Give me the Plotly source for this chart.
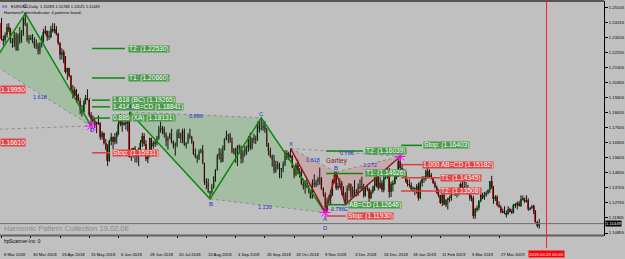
import plotly.graph_objects as go

# ---------------- data ----------------
date_ticks = [0, 16, 32, 48, 64, 80, 96, 112, 128, 144, 160, 176, 192, 208, 224, 240, 256, 272]
date_labels = ['8 Mar 2018', '30 Mar 2018', '23 Apr 2018', '15 May 2018', '6 Jun 2018', '28 Jun 2018',
               '20 Jul 2018', '13 Aug 2018', '4 Sep 2018', '26 Sep 2018', '18 Oct 2018', '9 Nov 2018',
               '3 Dec 2018', '26 Dec 2018', '18 Jan 2019', '11 Feb 2019', '5 Mar 2019', '27 Mar 2019']
cursor_bar = 298
cursor_label = '2019.04.29 00:00'

price_tick_labels = ['1.10855', '1.11805', '1.12755', '1.13705', '1.14655', '1.15605', '1.16555', '1.17505',
                     '1.18455', '1.19405', '1.20355', '1.21305', '1.22255', '1.23205', '1.24155', '1.25105']

opens = [
    1.2412, 1.2311, 1.2306, 1.2336, 1.2389, 1.2370, 1.2303, 1.2288, 1.2336, 1.2241, 1.2340, 1.2299, 1.2353, 1.2445, 1.2406, 1.2308, 1.2319,
    1.2322, 1.2301, 1.2271, 1.2277, 1.2239, 1.2282, 1.2318, 1.2357, 1.2367, 1.2327, 1.2328, 1.2380, 1.2370, 1.2374, 1.2347, 1.2288, 1.2212, 1.2233, 1.2165, 1.2103, 1.2130,
    1.2080, 1.1991, 1.1950, 1.1989, 1.1960, 1.1922, 1.1865, 1.1851, 1.1917, 1.1942, 1.1926, 1.1834, 1.1810, 1.1796, 1.1769, 1.1789, 1.1780, 1.1696, 1.1720, 1.1654, 1.1625, 1.1540, 1.1665,
    1.1693, 1.1659, 1.1695, 1.1718, 1.1777, 1.1797, 1.1768, 1.1782, 1.1776, 1.1794, 1.1569, 1.1607, 1.1625, 1.1578, 1.1570, 1.1600, 1.1655, 1.1701, 1.1649, 1.1553, 1.1570,
    1.1684, 1.1636, 1.1655, 1.1656, 1.1690, 1.1745, 1.1750, 1.1741, 1.1711, 1.1669, 1.1685, 1.1712, 1.1660, 1.1641, 1.1642, 1.1718, 1.1690, 1.1685, 1.1730, 1.1641, 1.1657, 1.1706,
    1.1691, 1.1659, 1.1584, 1.1566, 1.1552, 1.1600, 1.1610, 1.1525, 1.1410, 1.1405, 1.1345, 1.1345, 1.1375, 1.1440, 1.1485, 1.1570, 1.1595, 1.1536, 1.1625, 1.1680, 1.1700, 1.1705, 1.1670,
    1.1601, 1.1620, 1.1582, 1.1630, 1.1625, 1.1552, 1.1595, 1.1601, 1.1625, 1.1690, 1.1625, 1.1685, 1.1675, 1.1670, 1.1775, 1.1745, 1.1750, 1.1765, 1.1740, 1.1640,
    1.1605, 1.1575, 1.1547, 1.1480, 1.1515, 1.1525, 1.1490, 1.1490, 1.1525, 1.1595, 1.1560, 1.1580, 1.1575, 1.1500, 1.1455, 1.1515, 1.1465, 1.1470, 1.1395, 1.1375, 1.1400, 1.1370, 1.1345,
    1.1310, 1.1405, 1.1390, 1.1410, 1.1430, 1.1425, 1.1365, 1.1335, 1.1225, 1.1290, 1.1310, 1.1330, 1.1415, 1.1455, 1.1370, 1.1385, 1.1405, 1.1340, 1.1335, 1.1290, 1.1370, 1.1395,
    1.1315, 1.1355, 1.1345, 1.1340, 1.1375, 1.1380, 1.1355, 1.1320, 1.1370, 1.1365, 1.1305, 1.1345, 1.1360, 1.1380, 1.1450, 1.1370, 1.1405, 1.1355, 1.1430, 1.1440,
    1.1465, 1.1345, 1.1395, 1.1395, 1.1470, 1.1440, 1.1540, 1.1500, 1.1468, 1.1470, 1.1410, 1.1395, 1.1390, 1.1365, 1.1365, 1.1365, 1.1385, 1.1305, 1.1405, 1.1430, 1.1430, 1.1480,
    1.1445, 1.1455, 1.1435, 1.1405, 1.1375, 1.1340, 1.1325, 1.1275, 1.1325, 1.1265, 1.1295, 1.1295, 1.1310, 1.1340, 1.1345, 1.1335, 1.1335, 1.1355, 1.1395, 1.1370,
    1.1370, 1.1365, 1.1340, 1.1305, 1.1305, 1.1195, 1.1235, 1.1245, 1.1285, 1.1325, 1.1305, 1.1325, 1.1340, 1.1355, 1.1415, 1.1375, 1.1300, 1.1315, 1.1265, 1.1250, 1.1220,
    1.1215, 1.1215, 1.1205, 1.1235, 1.1220, 1.1215, 1.1260, 1.1265, 1.1275, 1.1255, 1.1300, 1.1305, 1.1285, 1.1295, 1.1235, 1.1245, 1.1255, 1.1225, 1.1155, 1.11283,
]
highs = [
    1.2447, 1.2335, 1.2355, 1.2410, 1.2413, 1.2384, 1.2320, 1.2360, 1.2354, 1.2350, 1.2389, 1.2370, 1.2450, 1.2476, 1.2416, 1.2339, 1.2339,
    1.2345, 1.2324, 1.2311, 1.2290, 1.2294, 1.2335, 1.2379, 1.2396, 1.2368, 1.2365, 1.2397, 1.2414, 1.2413, 1.2396, 1.2353, 1.2294, 1.2255, 1.2245, 1.2206, 1.2131, 1.2132,
    1.2085, 1.2022, 1.2010, 1.1997, 1.1967, 1.1939, 1.1896, 1.1925, 1.1960, 1.1995, 1.1938, 1.1851, 1.1830, 1.1813, 1.1790, 1.1830, 1.1787, 1.1730, 1.1721, 1.1680, 1.1647, 1.1676, 1.1718,
    1.1697, 1.1718, 1.1728, 1.1796, 1.1840, 1.1802, 1.1809, 1.1795, 1.1800, 1.1852, 1.1622, 1.1626, 1.1636, 1.1605, 1.1627, 1.1675, 1.1720, 1.1717, 1.1673, 1.1595, 1.1690,
    1.1688, 1.1670, 1.1672, 1.1700, 1.1764, 1.1791, 1.1763, 1.1758, 1.1722, 1.1697, 1.1720, 1.1745, 1.1672, 1.1659, 1.1740, 1.1745, 1.1720, 1.1745, 1.1747, 1.1660, 1.1718, 1.1746,
    1.1700, 1.1667, 1.1620, 1.1580, 1.1614, 1.1620, 1.1643, 1.1530, 1.1432, 1.1430, 1.1351, 1.1396, 1.1445, 1.1490, 1.1585, 1.1623, 1.1620, 1.1640, 1.1686, 1.1733, 1.1713, 1.1720, 1.1690,
    1.1623, 1.1625, 1.1642, 1.1645, 1.1640, 1.1612, 1.1637, 1.1639, 1.1699, 1.1721, 1.1690, 1.1714, 1.1702, 1.1790, 1.1789, 1.1815, 1.1791, 1.1795, 1.1750, 1.1655,
    1.1625, 1.1582, 1.1580, 1.1543, 1.1540, 1.1530, 1.1497, 1.1539, 1.1610, 1.1609, 1.1600, 1.1621, 1.1580, 1.1506, 1.1530, 1.1550, 1.1496, 1.1494, 1.1430, 1.1420, 1.1433, 1.1390, 1.1357,
    1.1425, 1.1456, 1.1422, 1.1441, 1.1500, 1.1440, 1.1375, 1.1342, 1.1309, 1.1325, 1.1360, 1.1425, 1.1471, 1.1472, 1.1403, 1.1432, 1.1415, 1.1381, 1.1344, 1.1387, 1.1402, 1.1398,
    1.1380, 1.1420, 1.1363, 1.1399, 1.1424, 1.1442, 1.1397, 1.1383, 1.1394, 1.1373, 1.1360, 1.1385, 1.1440, 1.1486, 1.1470, 1.1440, 1.1420, 1.1448, 1.1473, 1.1495,
    1.1497, 1.1410, 1.1419, 1.1485, 1.1484, 1.1553, 1.1570, 1.1524, 1.1492, 1.1475, 1.1425, 1.1425, 1.1406, 1.1381, 1.1375, 1.1395, 1.1405, 1.1417, 1.1445, 1.1445, 1.1487, 1.1514,
    1.1488, 1.1466, 1.1440, 1.1415, 1.1387, 1.1363, 1.1325, 1.1340, 1.1342, 1.1300, 1.1310, 1.1321, 1.1350, 1.1372, 1.1370, 1.1350, 1.1366, 1.1405, 1.1420, 1.1419,
    1.1408, 1.1390, 1.1345, 1.1325, 1.1320, 1.1245, 1.1260, 1.1295, 1.1338, 1.1340, 1.1345, 1.1350, 1.1362, 1.1415, 1.1448, 1.1383, 1.1325, 1.1325, 1.1285, 1.1262, 1.1240,
    1.1255, 1.1228, 1.1255, 1.1245, 1.1235, 1.1270, 1.1275, 1.1285, 1.1289, 1.1324, 1.1323, 1.1310, 1.1325, 1.1305, 1.1250, 1.1263, 1.1265, 1.1230, 1.1162, 1.11748,
]
lows = [
    1.2305, 1.2273, 1.2290, 1.2321, 1.2357, 1.2287, 1.2258, 1.2262, 1.2239, 1.2238, 1.2283, 1.2290, 1.2334, 1.2396, 1.2294, 1.2283, 1.2307,
    1.2286, 1.2255, 1.2250, 1.2215, 1.2217, 1.2260, 1.2290, 1.2340, 1.2302, 1.2307, 1.2318, 1.2355, 1.2352, 1.2337, 1.2276, 1.2182, 1.2183, 1.2160, 1.2094, 1.2055, 1.2071,
    1.1984, 1.1938, 1.1938, 1.1910, 1.1917, 1.1838, 1.1823, 1.1845, 1.1900, 1.1925, 1.1820, 1.1763, 1.1780, 1.1750, 1.1717, 1.1770, 1.1676, 1.1677, 1.1646, 1.1610, 1.1510, 1.1537, 1.1641,
    1.1617, 1.1646, 1.1650, 1.1705, 1.1760, 1.1727, 1.1764, 1.1740, 1.1728, 1.1562, 1.1542, 1.1563, 1.1532, 1.1530, 1.1508, 1.1589, 1.1630, 1.1636, 1.1541, 1.1528, 1.1565,
    1.1591, 1.1620, 1.1630, 1.1640, 1.1676, 1.1720, 1.1711, 1.1690, 1.1635, 1.1613, 1.1680, 1.1653, 1.1620, 1.1575, 1.1629, 1.1685, 1.1655, 1.1653, 1.1637, 1.1620, 1.1650, 1.1680,
    1.1650, 1.1578, 1.1559, 1.1529, 1.1547, 1.1589, 1.1523, 1.1390, 1.1365, 1.1340, 1.1301, 1.1332, 1.1365, 1.1410, 1.1480, 1.1551, 1.1530, 1.1535, 1.1608, 1.1672, 1.1654, 1.1656, 1.1590,
    1.1585, 1.1530, 1.1510, 1.1590, 1.1525, 1.1530, 1.1570, 1.1580, 1.1600, 1.1610, 1.1614, 1.1653, 1.1649, 1.1669, 1.1722, 1.1735, 1.1733, 1.1720, 1.1630, 1.1576,
    1.1560, 1.1505, 1.1463, 1.1466, 1.1488, 1.1432, 1.1432, 1.1470, 1.1510, 1.1548, 1.1547, 1.1559, 1.1496, 1.1432, 1.1445, 1.1458, 1.1435, 1.1390, 1.1360, 1.1335, 1.1369, 1.1337, 1.1302,
    1.1303, 1.1375, 1.1375, 1.1385, 1.1391, 1.1358, 1.1314, 1.1215, 1.1221, 1.1259, 1.1266, 1.1320, 1.1400, 1.1357, 1.1358, 1.1371, 1.1325, 1.1320, 1.1267, 1.1270, 1.1352, 1.1305,
    1.1315, 1.1317, 1.1316, 1.1320, 1.1360, 1.1351, 1.1309, 1.1316, 1.1350, 1.1270, 1.1301, 1.1335, 1.1352, 1.1375, 1.1356, 1.1366, 1.1344, 1.1343, 1.1425, 1.1430,
    1.1309, 1.1313, 1.1348, 1.1393, 1.1425, 1.1440, 1.1482, 1.1458, 1.1440, 1.1405, 1.1380, 1.1374, 1.1352, 1.1347, 1.1325, 1.1335, 1.1290, 1.1300, 1.1380, 1.1404, 1.1417, 1.1436,
    1.1433, 1.1425, 1.1395, 1.1368, 1.1335, 1.1310, 1.1270, 1.1255, 1.1265, 1.1249, 1.1234, 1.1280, 1.1290, 1.1325, 1.1320, 1.1310, 1.1322, 1.1335, 1.1365, 1.1365,
    1.1355, 1.1330, 1.1290, 1.1285, 1.1177, 1.1175, 1.1220, 1.1230, 1.1280, 1.1300, 1.1295, 1.1315, 1.1330, 1.1340, 1.1365, 1.1270, 1.1288, 1.1255, 1.1245, 1.1210, 1.1211,
    1.1205, 1.1184, 1.1200, 1.1215, 1.1205, 1.1210, 1.1245, 1.1235, 1.1253, 1.1250, 1.1292, 1.1275, 1.1280, 1.1225, 1.1230, 1.1237, 1.1205, 1.1150, 1.1120, 1.11125,
]
closes = [
    1.2311, 1.2306, 1.2336, 1.2389, 1.2370, 1.2303, 1.2288, 1.2336, 1.2241, 1.2340, 1.2299, 1.2353, 1.2445, 1.2406, 1.2308, 1.2319, 1.2322,
    1.2301, 1.2271, 1.2277, 1.2239, 1.2282, 1.2318, 1.2357, 1.2367, 1.2327, 1.2328, 1.2380, 1.2370, 1.2374, 1.2347, 1.2288, 1.2212, 1.2233, 1.2165, 1.2103, 1.2130, 1.2080,
    1.1991, 1.1950, 1.1989, 1.1960, 1.1922, 1.1865, 1.1851, 1.1917, 1.1942, 1.1926, 1.1834, 1.1810, 1.1796, 1.1769, 1.1789, 1.1780, 1.1696, 1.1720, 1.1654, 1.1625, 1.1540, 1.1665, 1.1693,
    1.1659, 1.1695, 1.1718, 1.1777, 1.1797, 1.1768, 1.1782, 1.1776, 1.1794, 1.1569, 1.1607, 1.1625, 1.1578, 1.1570, 1.1600, 1.1655, 1.1701, 1.1649, 1.1553, 1.1570, 1.1684,
    1.1636, 1.1655, 1.1656, 1.1690, 1.1745, 1.1750, 1.1741, 1.1711, 1.1669, 1.1685, 1.1712, 1.1660, 1.1641, 1.1642, 1.1718, 1.1690, 1.1685, 1.1730, 1.1641, 1.1657, 1.1706, 1.1691,
    1.1659, 1.1584, 1.1566, 1.1552, 1.1600, 1.1610, 1.1525, 1.1410, 1.1405, 1.1345, 1.1345, 1.1375, 1.1440, 1.1485, 1.1570, 1.1595, 1.1536, 1.1625, 1.1680, 1.1700, 1.1705, 1.1670, 1.1601,
    1.1620, 1.1582, 1.1630, 1.1625, 1.1552, 1.1595, 1.1601, 1.1625, 1.1690, 1.1625, 1.1685, 1.1675, 1.1670, 1.1775, 1.1745, 1.1750, 1.1765, 1.1740, 1.1640, 1.1605,
    1.1575, 1.1547, 1.1480, 1.1515, 1.1525, 1.1490, 1.1490, 1.1525, 1.1595, 1.1560, 1.1580, 1.1575, 1.1500, 1.1455, 1.1515, 1.1465, 1.1470, 1.1395, 1.1375, 1.1400, 1.1370, 1.1345, 1.1310,
    1.1405, 1.1390, 1.1410, 1.1430, 1.1425, 1.1365, 1.1335, 1.1225, 1.1290, 1.1310, 1.1330, 1.1415, 1.1455, 1.1370, 1.1385, 1.1405, 1.1340, 1.1335, 1.1290, 1.1370, 1.1395, 1.1315,
    1.1355, 1.1345, 1.1340, 1.1375, 1.1380, 1.1355, 1.1320, 1.1370, 1.1365, 1.1305, 1.1345, 1.1360, 1.1380, 1.1450, 1.1370, 1.1405, 1.1355, 1.1430, 1.1440, 1.1465,
    1.1345, 1.1395, 1.1395, 1.1470, 1.1440, 1.1540, 1.1500, 1.1468, 1.1470, 1.1410, 1.1395, 1.1390, 1.1365, 1.1365, 1.1365, 1.1385, 1.1305, 1.1405, 1.1430, 1.1430, 1.1480, 1.1445,
    1.1455, 1.1435, 1.1405, 1.1375, 1.1340, 1.1325, 1.1275, 1.1325, 1.1265, 1.1295, 1.1295, 1.1310, 1.1340, 1.1345, 1.1335, 1.1335, 1.1355, 1.1395, 1.1370, 1.1370,
    1.1365, 1.1340, 1.1305, 1.1305, 1.1195, 1.1235, 1.1245, 1.1285, 1.1325, 1.1305, 1.1325, 1.1340, 1.1355, 1.1415, 1.1375, 1.1300, 1.1315, 1.1265, 1.1250, 1.1220, 1.1215,
    1.1215, 1.1205, 1.1235, 1.1220, 1.1215, 1.1260, 1.1265, 1.1275, 1.1255, 1.1300, 1.1305, 1.1285, 1.1295, 1.1235, 1.1245, 1.1255, 1.1225, 1.1155, 1.1130, 1.11449,
]

# Harmonic patterns (bar index, price)
p1_bars = [-5, 13, 49]            # B, C, D (B lies left of the visible window)
p1_prices = [1.2155, 1.2476, 1.1763]
p1_x_bar, p1_x_price = -60, 1.1718
p2_bars = [70, 114, 142, 177]     # A, B, C, D
p2_prices = [1.1852, 1.1301, 1.1815, 1.1215]
p3_bars = [158, 177, 183, 188, 218]   # Gartley X, A, B, C, D
p3_prices = [1.1621, 1.1215, 1.1472, 1.1267, 1.1570]

p1_target_names = ['T2:', 'T1:', '1.618 (BC)', '1.414 AB=CD', '0.886 (XA)', 'Stop:']
p1_target_values = [1.22530, 1.20660, 1.19265, 1.18841, 1.18131, 1.15931]
p2_target_names = ['T2:', 'T1:', 'AB=CD', 'Stop:']
p2_target_values = [1.16039, 1.14626, 1.12646, 1.11930]
p3_target_names = ['Stop:', '1.000 AB=CD', 'T1:', 'T2:']
p3_target_values = [1.16403, 1.15182, 1.14345, 1.13508]

left_price_labels = [1.19950, 1.16610]

# ---------------- style ----------------
BG = '#c0c0c0'
FONT = 'Liberation Sans'
BLUE = '#1e30d0'
GREEN_LINE = '#0a8a0a'
GART_LINE = '#8b1a1a'
GREEN_BOX = '#4a9a4a'
RED_BOX = '#e04646'
GREEN_FILL = 'rgba(143,188,143,0.6)'
PINK_FILL = 'rgba(205,150,150,0.55)'
DOT = '#8c8c8c'

fig = go.Figure()


def fill_poly(xs, ys, color):
    fig.add_trace(go.Scatter(x=xs + [xs[0]], y=ys + [ys[0]], fill='toself', fillcolor=color,
                             mode='none', hoverinfo='skip', showlegend=False))


def seg(xs, ys, color, width=1.5, dash='solid'):
    fig.add_trace(go.Scatter(x=xs, y=ys, mode='lines', line=dict(color=color, width=width, dash=dash),
                             hoverinfo='skip', showlegend=False))


# shaded pattern areas
fill_poly(p1_bars[0:3], p1_prices[0:3], GREEN_FILL)
fill_poly(p2_bars[0:3], p2_prices[0:3], GREEN_FILL)
fill_poly(p2_bars[1:4], p2_prices[1:4], GREEN_FILL)
fill_poly(p3_bars[0:3], p3_prices[0:3], PINK_FILL)
fill_poly(p3_bars[2:5], p3_prices[2:5], PINK_FILL)

# dotted ratio lines
seg([p1_bars[0], p1_bars[2]], [p1_prices[0], p1_prices[2]], DOT, 1, 'dot')
seg([p1_x_bar, p1_bars[2]], [p1_x_price, p1_prices[2]], DOT, 1, 'dot')
seg([p2_bars[0], p2_bars[2]], [p2_prices[0], p2_prices[2]], DOT, 1, 'dot')
seg([p2_bars[1], p2_bars[3]], [p2_prices[1], p2_prices[3]], DOT, 1, 'dot')
seg([p3_bars[0], p3_bars[2]], [p3_prices[0], p3_prices[2]], DOT, 1, 'dot')
seg([p3_bars[0], p3_bars[4]], [p3_prices[0], p3_prices[4]], DOT, 1, 'dot')
seg([p3_bars[2], p3_bars[4]], [p3_prices[2], p3_prices[4]], DOT, 1, 'dot')
seg([p3_bars[1], p3_bars[3]], [p3_prices[1], p3_prices[3]], DOT, 1, 'dot')

# candles
n = len(closes)
bars = list(range(n))
wx, wy = [], []
for i in bars:
    wx += [i, i, None]
    wy += [lows[i], highs[i], None]
fig.add_trace(go.Scatter(x=wx, y=wy, mode='lines', line=dict(color='#141414', width=1),
                         hoverinfo='skip', showlegend=False))
body_base = [min(o, c) for o, c in zip(opens, closes)]
body_h = [max(abs(c - o), 0.00025) for o, c in zip(opens, closes)]
body_col = ['#1f8f1f' if c >= o else '#d42020' for o, c in zip(opens, closes)]
fig.add_trace(go.Bar(x=bars, y=body_h, base=body_base, width=0.72, marker=dict(color=body_col, line=dict(width=0)),
                     hoverinfo='skip', showlegend=False))

# pattern legs
seg(p1_bars, p1_prices, GREEN_LINE, 1.5)
seg(p2_bars, p2_prices, GREEN_LINE, 1.5)
seg(p3_bars, p3_prices, GART_LINE, 1.5)

# completion markers
fig.add_trace(go.Scatter(x=[p1_bars[2], p2_bars[3], p3_bars[4]], y=[p1_prices[2], p2_prices[3], p3_prices[4]],
                         mode='markers', marker=dict(symbol='asterisk-open', size=9, color='#ff00ff',
                                                     line=dict(color='#ff00ff', width=1)),
                         hoverinfo='skip', showlegend=False))

annotations = []


def box(x, y, text, bg, size=6.6, xref='x', yref='y', xanchor='left', **kw):
    annotations.append(dict(x=x, y=y, xref=xref, yref=yref, text=text, showarrow=False, xanchor=xanchor,
                            yanchor=kw.pop('yanchor', 'middle'), bgcolor=bg, borderpad=kw.pop('borderpad', 0),
                            height=kw.pop('height', 6),
                            font=dict(family=FONT, size=size, color='white'), **kw))


def txt(x, y, text, color=BLUE, size=6, **kw):
    annotations.append(dict(x=x, y=y, xref=kw.pop('xref', 'x'), yref=kw.pop('yref', 'y'), text=text,
                            showarrow=False, font=dict(family=FONT, size=size, color=color), **kw))


# target lines + labels
def targets(names, values, colors, starts, ends, label_x):
    for nm, v, col, x0, x1, lx in zip(names, values, colors, starts, ends, label_x):
        seg([x0, x1], [v, v], col, 1.5)
        box(lx, v, f'{nm} ({v:.5f})', GREEN_BOX if col == GREEN_LINE else RED_BOX)


RL = '#e03c3c'
targets(p1_target_names, p1_target_values, [GREEN_LINE] * 5 + [RL],
        [49.5] * 6, [67.5, 67.5, 59.3, 59.3, 59.3, 59.3], [69.2, 69.2, 60.4, 60.4, 60.4, 60.4])
targets(p2_target_names, p2_target_values, [GREEN_LINE, GREEN_LINE, GREEN_LINE, RL],
        [177.5] * 4, [197.6, 197.6, 188.9, 188.4], [198.7, 198.7, 189.4, 188.9])
targets(p3_target_names, p3_target_values, [GREEN_LINE, RL, RL, RL],
        [218.5] * 4, [229.9, 229.9, 239.7, 239.7], [230.5, 229.9, 239.7, 239.7])

# pattern point letters
txt(p1_bars[1], p1_prices[1], 'C', yshift=7)
txt(p1_bars[2] + 1, p1_prices[2], 'D', yshift=-4)
txt(p2_bars[0], p2_prices[0], 'A', yshift=5)
txt(p2_bars[1] + 0.5, p2_prices[1], 'B', yshift=-5)
txt(p2_bars[2], p2_prices[2], 'C', yshift=4)
txt(p2_bars[3], p2_prices[3], 'D', yshift=-15)
txt(p3_bars[0], p3_prices[0], 'X', yshift=4)
txt(p3_bars[1], p3_prices[1], 'A', yshift=-6)
txt(p3_bars[2], p3_prices[2], 'B', yshift=4)
txt(p3_bars[3] + 0.5, p3_prices[3], 'C', yshift=-5)

# ratio labels
txt(21.0, 1.1947, '1.618', size=5.5)
txt(106.3, 1.1826, '0.886', size=5.5)
txt(144.0, 1.1250, '1.130', size=5.5)
txt(170.3, 1.1548, '0.618', size=5.5)
txt(188.9, 1.1592, '0.786', size=5.5)
txt(201.5, 1.1516, '1.272', size=5.5)
txt(184.0, 1.1237, '0.786', size=5.5)
txt(183.4, 1.1541, 'Gartley', color=GART_LINE, size=6.5)

# left-edge price labels
for v in left_price_labels:
    box(0, v, f'{v:.5f}', RED_BOX, xref='paper', height=7)

# current price
last = closes[-1]
box(1, last, f'{last:.5f}', '#000000', size=4.2, xref='paper', xshift=1, height=5)
box(cursor_bar, 0, cursor_label, '#ff0000', size=4.4, yref='paper', xanchor='center', yanchor='top', yshift=-1.5)

# date labels (MT4 style: text starts at the tick mark)
for t, lab in zip(date_ticks, date_labels):
    txt(t, 0, lab, color='#000000', size=4.2, yref='paper', xanchor='left', yanchor='top', xshift=0, yshift=-1.5)

# header & footer texts
txt(0, 1, f'EURUSD,Daily  {opens[-1]:.5f} {highs[-1]:.5f} {lows[-1]:.5f} {closes[-1]:.5f}', color='#000000',
    size=4, xref='paper', yref='paper', xanchor='left', yanchor='top', xshift=9, yshift=-1)
txt(0, 1, 'HarmonicPatternIndicator: 4 patterns found.', color='#000000', size=4, xref='paper', yref='paper',
    xanchor='left', yanchor='top', xshift=2, yshift=-7)
txt(0, 1, 'EE', color='#2040c0', size=4, xref='paper', yref='paper', xanchor='left', yanchor='top', xshift=0,
    yshift=-1)
txt(0, 0.0526, 'Harmonic Pattern Collection 19.02.06', color='#8a8a8a', size=7.5, xref='paper', yref='paper',
    xanchor='left', yanchor='bottom', xshift=2, yshift=0)
txt(0, 0.0486, 'hpScanner-Inv: 0', color='#000000', size=4.8, xref='paper', yref='paper', xanchor='left',
    yanchor='top', xshift=2, yshift=-1)

shapes = [
    dict(type='line', xref='paper', yref='paper', x0=0, x1=1, y0=1, y1=1, line=dict(color='#555555', width=2)),
    dict(type='line', xref='paper', yref='paper', x0=0, x1=1, y0=0.0506, y1=0.0506, line=dict(color='#606060', width=2)),
    dict(type='line', xref='paper', yref='y', x0=0, x1=1, y0=last, y1=last, line=dict(color='#6e6e6e', width=1)),
    dict(type='line', xref='x', yref='paper', x0=cursor_bar, x1=cursor_bar, y0=0, y1=1, line=dict(color='#ff2020', width=1)),
]

tick_font = dict(family=FONT, size=4.2, color='#000000')
fig.update_layout(
    width=625, height=259, margin=dict(l=0, r=21, t=1, b=11),
    paper_bgcolor=BG, plot_bgcolor=BG, showlegend=False, bargap=0,
    xaxis=dict(range=[-0.82, 329.4], anchor='y2', tickvals=date_ticks, showticklabels=False,
               ticks='outside', ticklen=2, tickcolor='#000000',
               showgrid=False, zeroline=False, showline=True, linecolor='#000000', linewidth=1),
    yaxis=dict(domain=[0.0526, 1], range=[1.10728, 1.25541], side='right', anchor='x',
               tickvals=[float(s) for s in price_tick_labels], ticktext=price_tick_labels,
               ticks='outside', ticklen=3, tickcolor='#000000', tickfont=tick_font,
               showgrid=False, zeroline=False, showline=True, linecolor='#000000', linewidth=1),
    yaxis2=dict(domain=[0, 0.0486], range=[0, 1], side='right', anchor='x', tickvals=[0.75, 0.2], ticktext=['0', '0'],
                ticks='', tickfont=tick_font, showgrid=False, zeroline=False, showline=True, linecolor='#000000',
                linewidth=1),
    annotations=annotations, shapes=shapes,
)

fig.write_html('out.html')
